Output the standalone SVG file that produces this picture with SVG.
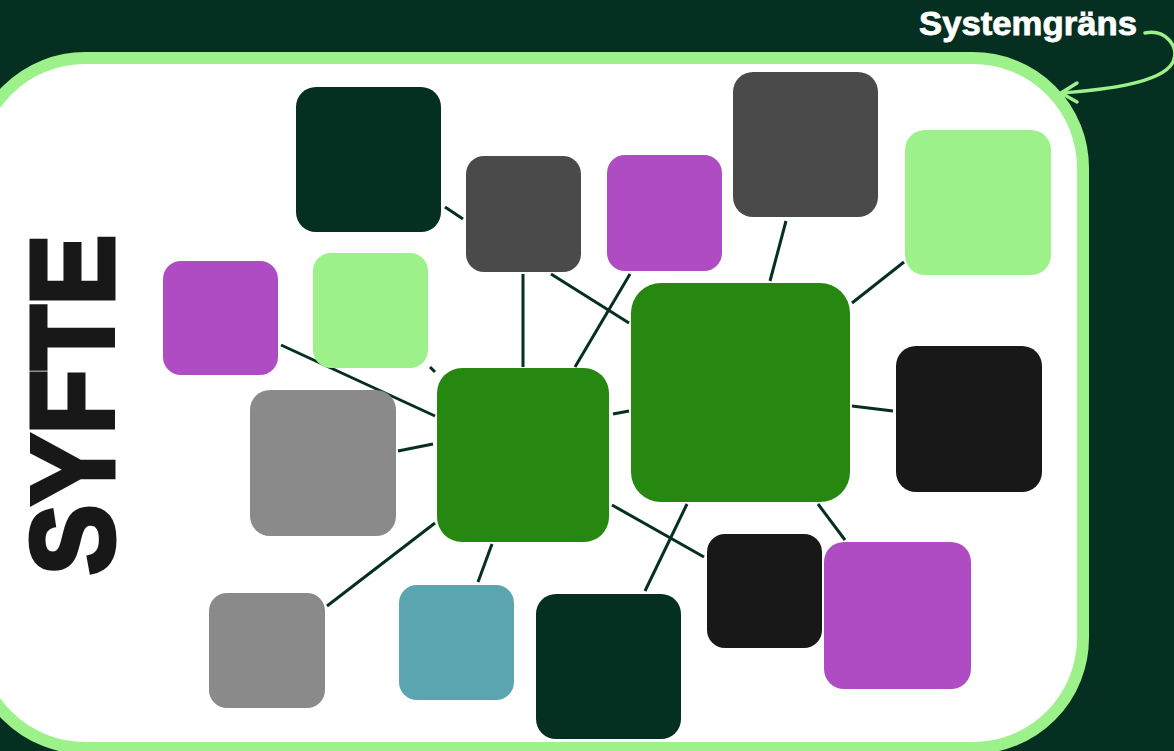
<svg xmlns="http://www.w3.org/2000/svg" width="1174" height="751" viewBox="0 0 1174 751">
<style>
.dg{fill:#052F20}.g4{fill:#4A4A4A}.pu{fill:#AF4CC4}.lg{fill:#9DF18A}.gr{fill:#268711}.bk{fill:#181818}.g8{fill:#8A8A8A}.te{fill:#5BA5B0}
.conn line{stroke:#052F20;stroke-width:3;stroke-linecap:butt}
</style>
<rect x="0" y="0" width="1174" height="751" fill="#052F20"/>
<rect id="boundary" x="-25" y="58" width="1108" height="690" rx="110" ry="110" fill="#FFFFFF" stroke="#9DF18A" stroke-width="12"/>
<g id="label">
<text x="919" y="35" font-family="Liberation Sans, Arial, sans-serif" font-weight="bold" font-size="33" fill="#FFFFFF" stroke="#FFFFFF" stroke-width="0.8" textLength="218" lengthAdjust="spacingAndGlyphs">Systemgräns</text>
<path d="M1145,33 C1165,29 1180,46 1173,62 C1162,84 1100,90 1062,93" fill="none" stroke="#9DF18A" stroke-width="3.5" stroke-linecap="round"/>
<path d="M1077,83 L1061,93 L1077,102" fill="none" stroke="#9DF18A" stroke-width="3.5" stroke-linecap="round" stroke-linejoin="round"/>
</g>
<g id="syfte">
<text transform="translate(113,575) rotate(-90)" x="0" y="0" font-family="Liberation Sans, Arial, sans-serif" font-weight="bold" font-size="116" fill="#181818" stroke="#181818" stroke-width="5" stroke-linejoin="miter" textLength="340" lengthAdjust="spacingAndGlyphs">SYFTE</text>
</g>
<g id="connectors" class="conn">
<line x1="445" y1="207" x2="463" y2="219"/>
<line x1="523" y1="274" x2="523" y2="367"/>
<line x1="551" y1="274" x2="629" y2="323"/>
<line x1="630" y1="274" x2="575" y2="367"/>
<line x1="430" y1="367" x2="435" y2="372"/>
<line x1="281" y1="345" x2="435" y2="416"/>
<line x1="398" y1="451" x2="433" y2="444"/>
<line x1="327" y1="606" x2="435" y2="523"/>
<line x1="478" y1="582" x2="492" y2="544"/>
<line x1="613" y1="414" x2="629" y2="411"/>
<line x1="612" y1="505" x2="704" y2="557"/>
<line x1="687" y1="504" x2="645" y2="591"/>
<line x1="786" y1="221" x2="770" y2="281"/>
<line x1="852" y1="303" x2="904" y2="262"/>
<line x1="852" y1="406" x2="893" y2="411"/>
<line x1="818" y1="504" x2="845" y2="540"/>
</g>
<g id="n1"><rect class="dg" x="296" y="87" width="145" height="145" rx="20"/></g>
<g id="n2"><rect class="g4" x="466" y="156" width="115" height="116" rx="18"/></g>
<g id="n3"><rect class="pu" x="607" y="155" width="115" height="116" rx="18"/></g>
<g id="n4"><rect class="g4" x="733" y="72" width="145" height="145" rx="20"/></g>
<g id="n5"><rect class="lg" x="905" y="130" width="146" height="145" rx="20"/></g>
<g id="n6"><rect class="pu" x="163" y="261" width="115" height="114" rx="18"/></g>
<g id="n7"><rect class="lg" x="313" y="253" width="115" height="115" rx="18"/></g>
<g id="n8"><rect class="gr" x="437" y="368" width="172" height="174" rx="25"/></g>
<g id="n9"><rect class="gr" x="631" y="283" width="219" height="219" rx="30"/></g>
<g id="n10"><rect class="bk" x="896" y="346" width="146" height="146" rx="20"/></g>
<g id="n11"><rect class="g8" x="250" y="390" width="146" height="146" rx="20"/></g>
<g id="n12"><rect class="g8" x="209" y="593" width="116" height="115" rx="18"/></g>
<g id="n13"><rect class="te" x="399" y="585" width="115" height="115" rx="18"/></g>
<g id="n14"><rect class="dg" x="536" y="594" width="145" height="145" rx="20"/></g>
<g id="n15"><rect class="bk" x="707" y="534" width="115" height="114" rx="18"/></g>
<g id="n16"><rect class="pu" x="824" y="542" width="147" height="147" rx="20"/></g>
</svg>
